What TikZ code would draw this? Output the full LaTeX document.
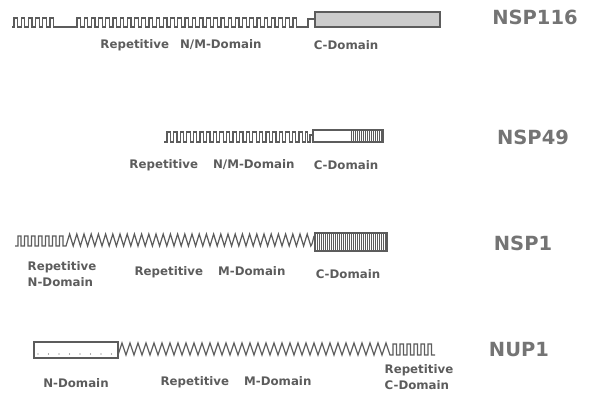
\documentclass[tikz,border=0pt]{standalone}
\usepackage{fontspec}
\setmainfont{DejaVu Sans}
\definecolor{ink}{gray}{0.36}
\definecolor{stipple}{gray}{0.8}

\begin{document}
\begin{tikzpicture}[x=1pt, y=-1pt,
	chain/.style={draw=ink, line width=1.2pt},
	hatch/.style={draw=ink, line width=0.7pt},
	domtext/.style={text=ink, font=\bfseries\fontsize{11.8}{16}\selectfont, inner sep=0pt, align=left},
	protname/.style={text=ink!85, font=\bfseries\fontsize{19.5}{24}\selectfont, inner sep=0pt}]
	\useasboundingbox (0,0) rectangle (595,397);

	% NSP116
	\draw[chain] (12,27) -- (14,27) \foreach \i in {1,...,6} {-- ++(0,-9) -- ++(3.6,0) -- ++(0,9) -- ++(3.6,0)} -- (77,27) \foreach \i in {1,...,31} {-- ++(0,-9) -- ++(3.6,0) -- ++(0,9) -- ++(3.6,0)} -- (308,27) -- (308,19) -- (315,19);
	\draw[chain, fill=stipple] (315,12) rectangle (440,27);
	\node[protname] (nsp116) at (535,17) {NSP116};
	\node[domtext] (nsp116-nm) at (181,45) {Repetitive\hspace{11pt}N/M-Domain};
	\node[domtext] (nsp116-c) at (346,45) {C-Domain};

	% NSP49
	\draw[chain] (164,142) -- (167,142) -- (167,132) \foreach \i in {1,...,21} {-- ++(3.3,0) -- ++(0,10) -- ++(3.3,0) -- ++(0,-10)} -- ++(2,0) -- ++(0,10) -- (310,142) -- (310,135) -- (313,135);
	\draw[chain] (313,130) rectangle (383,142);
	\foreach \x in {351,353,...,381} \draw[hatch] (\x,130) -- (\x,142);
	\node[protname] (nsp49) at (533,137) {NSP49};
	\node[domtext] (nsp49-nm) at (212,165) {Repetitive\hspace{15pt}N/M-Domain};
	\node[domtext] (nsp49-c) at (346,165) {C-Domain};

	% NSP1
	\draw[chain] (15,246) -- (18,246) -- (18,236) -- (21,236) \foreach \i in {1,...,6} {-- ++(0,10) -- ++(3.5,0) -- ++(0,-10) -- ++(3.5,0)} -- ++(0,10) -- ++(3,0) \foreach \i in {1,...,34} {-- ++(3.6,-12) -- ++(3.6,12)} .. controls (313,244) and (313,236) .. (315,235);
	\draw[chain] (315,233) rectangle (387,251);
	\foreach \x in {317,319,...,385} \draw[hatch] (\x,233) -- (\x,251);
	\node[protname] (nsp1) at (523,243) {NSP1};
	\node[domtext] (nsp1-n) at (62,274) {Repetitive\\N-Domain};
	\node[domtext] (nsp1-m) at (210,272) {Repetitive\hspace{15pt}M-Domain};
	\node[domtext] (nsp1-c) at (348,274) {C-Domain};

	% NUP1
	\draw[chain] (34,342) rectangle (118,358);
	\foreach \x in {38,48.5,...,112} \fill[ink] (\x,354) circle (0.7pt);
	\draw[chain] (118,355) \foreach \i in {1,...,34} {-- ++(4,-12) -- ++(4,12)} -- ++(3,0) \foreach \i in {1,...,6} {-- ++(0,-11) -- ++(3.5,0) -- ++(0,11) -- ++(3.5,0)};
	\node[protname] (nup1) at (519,350) {NUP1};
	\node[domtext] (nup1-n) at (76,383) {N-Domain};
	\node[domtext] (nup1-m) at (236,382) {Repetitive\hspace{15pt}M-Domain};
	\node[domtext] (nup1-c) at (419,377) {Repetitive\\C-Domain};
\end{tikzpicture}
\end{document}
